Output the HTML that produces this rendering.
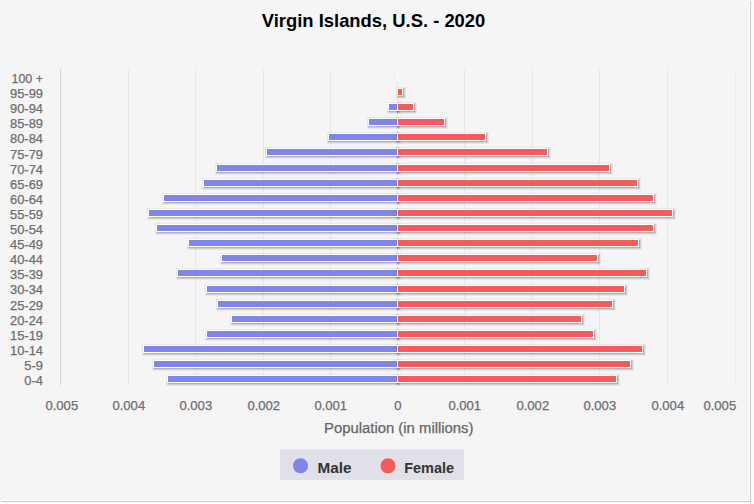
<!DOCTYPE html>
<html><head><meta charset="utf-8"><style>
html,body{margin:0;padding:0;width:754px;height:504px;overflow:hidden;background:#fcfcfc;}
#c{position:absolute;left:0;top:0;width:749px;height:500px;background:#f5f5f5;border-right:1px solid #fff;border-bottom:1px solid #fff;box-shadow:1px 1px 0 0 #c8c8c8;}
svg{position:absolute;left:0;top:0;}
text{font-family:"Liberation Sans",sans-serif;}
.cl{font-size:12px;fill:#6e6e70;stroke:#6e6e70;stroke-width:0.25;}
.tl{font-size:12px;fill:#6e6e70;stroke:#6e6e70;stroke-width:0.25;}
.ti{font-size:19px;font-weight:bold;fill:#000;}
.at{font-size:14px;fill:#666666;stroke:#666;stroke-width:0.25;}
.lg{font-size:15px;font-weight:bold;fill:#333333;}
</style></head><body>
<div id="c"></div>
<svg width="754" height="504" viewBox="0 0 754 504">
<text x="261.8" y="26.5" class="ti" textLength="223.5" lengthAdjust="spacingAndGlyphs">Virgin Islands, U.S. - 2020</text>
<line x1="60.5" y1="69" x2="60.5" y2="385" stroke="#cfd5e0" stroke-width="1"/>
<line x1="128.5" y1="69" x2="128.5" y2="385" stroke="#e8e8e8" stroke-width="1"/>
<line x1="195.5" y1="69" x2="195.5" y2="385" stroke="#e8e8e8" stroke-width="1"/>
<line x1="263.5" y1="69" x2="263.5" y2="385" stroke="#e8e8e8" stroke-width="1"/>
<line x1="330.5" y1="69" x2="330.5" y2="385" stroke="#e8e8e8" stroke-width="1"/>
<line x1="397.5" y1="69" x2="397.5" y2="385" stroke="#e8e8e8" stroke-width="1"/>
<line x1="464.5" y1="69" x2="464.5" y2="385" stroke="#e8e8e8" stroke-width="1"/>
<line x1="532.5" y1="69" x2="532.5" y2="385" stroke="#e8e8e8" stroke-width="1"/>
<line x1="599.5" y1="69" x2="599.5" y2="385" stroke="#e8e8e8" stroke-width="1"/>
<line x1="667.5" y1="69" x2="667.5" y2="385" stroke="#e8e8e8" stroke-width="1"/>
<line x1="735.5" y1="69" x2="735.5" y2="385" stroke="#ececec" stroke-width="1"/>
<rect x="167.5" y="375.5" width="230.0" height="7" fill="none" stroke="#000" stroke-opacity="0.05" stroke-width="5" transform="translate(1,1)"/><rect x="167.5" y="375.5" width="230.0" height="7" fill="none" stroke="#000" stroke-opacity="0.1" stroke-width="3" transform="translate(1,1)"/><rect x="167.5" y="375.5" width="230.0" height="7" fill="none" stroke="#000" stroke-opacity="0.15" stroke-width="1" transform="translate(1,1)"/><rect x="167.5" y="375.5" width="230.0" height="7" fill="#8085e9" stroke="#fff" stroke-width="1"/>
<rect x="397.5" y="375.5" width="219.0" height="7" fill="none" stroke="#000" stroke-opacity="0.05" stroke-width="5" transform="translate(1,1)"/><rect x="397.5" y="375.5" width="219.0" height="7" fill="none" stroke="#000" stroke-opacity="0.1" stroke-width="3" transform="translate(1,1)"/><rect x="397.5" y="375.5" width="219.0" height="7" fill="none" stroke="#000" stroke-opacity="0.15" stroke-width="1" transform="translate(1,1)"/><rect x="397.5" y="375.5" width="219.0" height="7" fill="#f45b5b" stroke="#fff" stroke-width="1"/>
<rect x="153.5" y="360.5" width="244.0" height="7" fill="none" stroke="#000" stroke-opacity="0.05" stroke-width="5" transform="translate(1,1)"/><rect x="153.5" y="360.5" width="244.0" height="7" fill="none" stroke="#000" stroke-opacity="0.1" stroke-width="3" transform="translate(1,1)"/><rect x="153.5" y="360.5" width="244.0" height="7" fill="none" stroke="#000" stroke-opacity="0.15" stroke-width="1" transform="translate(1,1)"/><rect x="153.5" y="360.5" width="244.0" height="7" fill="#8085e9" stroke="#fff" stroke-width="1"/>
<rect x="397.5" y="360.5" width="233.0" height="7" fill="none" stroke="#000" stroke-opacity="0.05" stroke-width="5" transform="translate(1,1)"/><rect x="397.5" y="360.5" width="233.0" height="7" fill="none" stroke="#000" stroke-opacity="0.1" stroke-width="3" transform="translate(1,1)"/><rect x="397.5" y="360.5" width="233.0" height="7" fill="none" stroke="#000" stroke-opacity="0.15" stroke-width="1" transform="translate(1,1)"/><rect x="397.5" y="360.5" width="233.0" height="7" fill="#f45b5b" stroke="#fff" stroke-width="1"/>
<rect x="143.5" y="345.5" width="254.0" height="7" fill="none" stroke="#000" stroke-opacity="0.05" stroke-width="5" transform="translate(1,1)"/><rect x="143.5" y="345.5" width="254.0" height="7" fill="none" stroke="#000" stroke-opacity="0.1" stroke-width="3" transform="translate(1,1)"/><rect x="143.5" y="345.5" width="254.0" height="7" fill="none" stroke="#000" stroke-opacity="0.15" stroke-width="1" transform="translate(1,1)"/><rect x="143.5" y="345.5" width="254.0" height="7" fill="#8085e9" stroke="#fff" stroke-width="1"/>
<rect x="397.5" y="345.5" width="245.0" height="7" fill="none" stroke="#000" stroke-opacity="0.05" stroke-width="5" transform="translate(1,1)"/><rect x="397.5" y="345.5" width="245.0" height="7" fill="none" stroke="#000" stroke-opacity="0.1" stroke-width="3" transform="translate(1,1)"/><rect x="397.5" y="345.5" width="245.0" height="7" fill="none" stroke="#000" stroke-opacity="0.15" stroke-width="1" transform="translate(1,1)"/><rect x="397.5" y="345.5" width="245.0" height="7" fill="#f45b5b" stroke="#fff" stroke-width="1"/>
<rect x="206.5" y="330.5" width="191.0" height="7" fill="none" stroke="#000" stroke-opacity="0.05" stroke-width="5" transform="translate(1,1)"/><rect x="206.5" y="330.5" width="191.0" height="7" fill="none" stroke="#000" stroke-opacity="0.1" stroke-width="3" transform="translate(1,1)"/><rect x="206.5" y="330.5" width="191.0" height="7" fill="none" stroke="#000" stroke-opacity="0.15" stroke-width="1" transform="translate(1,1)"/><rect x="206.5" y="330.5" width="191.0" height="7" fill="#8085e9" stroke="#fff" stroke-width="1"/>
<rect x="397.5" y="330.5" width="196.0" height="7" fill="none" stroke="#000" stroke-opacity="0.05" stroke-width="5" transform="translate(1,1)"/><rect x="397.5" y="330.5" width="196.0" height="7" fill="none" stroke="#000" stroke-opacity="0.1" stroke-width="3" transform="translate(1,1)"/><rect x="397.5" y="330.5" width="196.0" height="7" fill="none" stroke="#000" stroke-opacity="0.15" stroke-width="1" transform="translate(1,1)"/><rect x="397.5" y="330.5" width="196.0" height="7" fill="#f45b5b" stroke="#fff" stroke-width="1"/>
<rect x="231.5" y="315.5" width="166.0" height="7" fill="none" stroke="#000" stroke-opacity="0.05" stroke-width="5" transform="translate(1,1)"/><rect x="231.5" y="315.5" width="166.0" height="7" fill="none" stroke="#000" stroke-opacity="0.1" stroke-width="3" transform="translate(1,1)"/><rect x="231.5" y="315.5" width="166.0" height="7" fill="none" stroke="#000" stroke-opacity="0.15" stroke-width="1" transform="translate(1,1)"/><rect x="231.5" y="315.5" width="166.0" height="7" fill="#8085e9" stroke="#fff" stroke-width="1"/>
<rect x="397.5" y="315.5" width="184.0" height="7" fill="none" stroke="#000" stroke-opacity="0.05" stroke-width="5" transform="translate(1,1)"/><rect x="397.5" y="315.5" width="184.0" height="7" fill="none" stroke="#000" stroke-opacity="0.1" stroke-width="3" transform="translate(1,1)"/><rect x="397.5" y="315.5" width="184.0" height="7" fill="none" stroke="#000" stroke-opacity="0.15" stroke-width="1" transform="translate(1,1)"/><rect x="397.5" y="315.5" width="184.0" height="7" fill="#f45b5b" stroke="#fff" stroke-width="1"/>
<rect x="217.5" y="300.5" width="180.0" height="7" fill="none" stroke="#000" stroke-opacity="0.05" stroke-width="5" transform="translate(1,1)"/><rect x="217.5" y="300.5" width="180.0" height="7" fill="none" stroke="#000" stroke-opacity="0.1" stroke-width="3" transform="translate(1,1)"/><rect x="217.5" y="300.5" width="180.0" height="7" fill="none" stroke="#000" stroke-opacity="0.15" stroke-width="1" transform="translate(1,1)"/><rect x="217.5" y="300.5" width="180.0" height="7" fill="#8085e9" stroke="#fff" stroke-width="1"/>
<rect x="397.5" y="300.5" width="215.0" height="7" fill="none" stroke="#000" stroke-opacity="0.05" stroke-width="5" transform="translate(1,1)"/><rect x="397.5" y="300.5" width="215.0" height="7" fill="none" stroke="#000" stroke-opacity="0.1" stroke-width="3" transform="translate(1,1)"/><rect x="397.5" y="300.5" width="215.0" height="7" fill="none" stroke="#000" stroke-opacity="0.15" stroke-width="1" transform="translate(1,1)"/><rect x="397.5" y="300.5" width="215.0" height="7" fill="#f45b5b" stroke="#fff" stroke-width="1"/>
<rect x="206.5" y="285.5" width="191.0" height="7" fill="none" stroke="#000" stroke-opacity="0.05" stroke-width="5" transform="translate(1,1)"/><rect x="206.5" y="285.5" width="191.0" height="7" fill="none" stroke="#000" stroke-opacity="0.1" stroke-width="3" transform="translate(1,1)"/><rect x="206.5" y="285.5" width="191.0" height="7" fill="none" stroke="#000" stroke-opacity="0.15" stroke-width="1" transform="translate(1,1)"/><rect x="206.5" y="285.5" width="191.0" height="7" fill="#8085e9" stroke="#fff" stroke-width="1"/>
<rect x="397.5" y="285.5" width="227.0" height="7" fill="none" stroke="#000" stroke-opacity="0.05" stroke-width="5" transform="translate(1,1)"/><rect x="397.5" y="285.5" width="227.0" height="7" fill="none" stroke="#000" stroke-opacity="0.1" stroke-width="3" transform="translate(1,1)"/><rect x="397.5" y="285.5" width="227.0" height="7" fill="none" stroke="#000" stroke-opacity="0.15" stroke-width="1" transform="translate(1,1)"/><rect x="397.5" y="285.5" width="227.0" height="7" fill="#f45b5b" stroke="#fff" stroke-width="1"/>
<rect x="177.5" y="269.5" width="220.0" height="7" fill="none" stroke="#000" stroke-opacity="0.05" stroke-width="5" transform="translate(1,1)"/><rect x="177.5" y="269.5" width="220.0" height="7" fill="none" stroke="#000" stroke-opacity="0.1" stroke-width="3" transform="translate(1,1)"/><rect x="177.5" y="269.5" width="220.0" height="7" fill="none" stroke="#000" stroke-opacity="0.15" stroke-width="1" transform="translate(1,1)"/><rect x="177.5" y="269.5" width="220.0" height="7" fill="#8085e9" stroke="#fff" stroke-width="1"/>
<rect x="397.5" y="269.5" width="249.0" height="7" fill="none" stroke="#000" stroke-opacity="0.05" stroke-width="5" transform="translate(1,1)"/><rect x="397.5" y="269.5" width="249.0" height="7" fill="none" stroke="#000" stroke-opacity="0.1" stroke-width="3" transform="translate(1,1)"/><rect x="397.5" y="269.5" width="249.0" height="7" fill="none" stroke="#000" stroke-opacity="0.15" stroke-width="1" transform="translate(1,1)"/><rect x="397.5" y="269.5" width="249.0" height="7" fill="#f45b5b" stroke="#fff" stroke-width="1"/>
<rect x="221.5" y="254.5" width="176.0" height="7" fill="none" stroke="#000" stroke-opacity="0.05" stroke-width="5" transform="translate(1,1)"/><rect x="221.5" y="254.5" width="176.0" height="7" fill="none" stroke="#000" stroke-opacity="0.1" stroke-width="3" transform="translate(1,1)"/><rect x="221.5" y="254.5" width="176.0" height="7" fill="none" stroke="#000" stroke-opacity="0.15" stroke-width="1" transform="translate(1,1)"/><rect x="221.5" y="254.5" width="176.0" height="7" fill="#8085e9" stroke="#fff" stroke-width="1"/>
<rect x="397.5" y="254.5" width="200.0" height="7" fill="none" stroke="#000" stroke-opacity="0.05" stroke-width="5" transform="translate(1,1)"/><rect x="397.5" y="254.5" width="200.0" height="7" fill="none" stroke="#000" stroke-opacity="0.1" stroke-width="3" transform="translate(1,1)"/><rect x="397.5" y="254.5" width="200.0" height="7" fill="none" stroke="#000" stroke-opacity="0.15" stroke-width="1" transform="translate(1,1)"/><rect x="397.5" y="254.5" width="200.0" height="7" fill="#f45b5b" stroke="#fff" stroke-width="1"/>
<rect x="188.5" y="239.5" width="209.0" height="7" fill="none" stroke="#000" stroke-opacity="0.05" stroke-width="5" transform="translate(1,1)"/><rect x="188.5" y="239.5" width="209.0" height="7" fill="none" stroke="#000" stroke-opacity="0.1" stroke-width="3" transform="translate(1,1)"/><rect x="188.5" y="239.5" width="209.0" height="7" fill="none" stroke="#000" stroke-opacity="0.15" stroke-width="1" transform="translate(1,1)"/><rect x="188.5" y="239.5" width="209.0" height="7" fill="#8085e9" stroke="#fff" stroke-width="1"/>
<rect x="397.5" y="239.5" width="241.0" height="7" fill="none" stroke="#000" stroke-opacity="0.05" stroke-width="5" transform="translate(1,1)"/><rect x="397.5" y="239.5" width="241.0" height="7" fill="none" stroke="#000" stroke-opacity="0.1" stroke-width="3" transform="translate(1,1)"/><rect x="397.5" y="239.5" width="241.0" height="7" fill="none" stroke="#000" stroke-opacity="0.15" stroke-width="1" transform="translate(1,1)"/><rect x="397.5" y="239.5" width="241.0" height="7" fill="#f45b5b" stroke="#fff" stroke-width="1"/>
<rect x="156.5" y="224.5" width="241.0" height="7" fill="none" stroke="#000" stroke-opacity="0.05" stroke-width="5" transform="translate(1,1)"/><rect x="156.5" y="224.5" width="241.0" height="7" fill="none" stroke="#000" stroke-opacity="0.1" stroke-width="3" transform="translate(1,1)"/><rect x="156.5" y="224.5" width="241.0" height="7" fill="none" stroke="#000" stroke-opacity="0.15" stroke-width="1" transform="translate(1,1)"/><rect x="156.5" y="224.5" width="241.0" height="7" fill="#8085e9" stroke="#fff" stroke-width="1"/>
<rect x="397.5" y="224.5" width="256.0" height="7" fill="none" stroke="#000" stroke-opacity="0.05" stroke-width="5" transform="translate(1,1)"/><rect x="397.5" y="224.5" width="256.0" height="7" fill="none" stroke="#000" stroke-opacity="0.1" stroke-width="3" transform="translate(1,1)"/><rect x="397.5" y="224.5" width="256.0" height="7" fill="none" stroke="#000" stroke-opacity="0.15" stroke-width="1" transform="translate(1,1)"/><rect x="397.5" y="224.5" width="256.0" height="7" fill="#f45b5b" stroke="#fff" stroke-width="1"/>
<rect x="148.5" y="209.5" width="249.0" height="7" fill="none" stroke="#000" stroke-opacity="0.05" stroke-width="5" transform="translate(1,1)"/><rect x="148.5" y="209.5" width="249.0" height="7" fill="none" stroke="#000" stroke-opacity="0.1" stroke-width="3" transform="translate(1,1)"/><rect x="148.5" y="209.5" width="249.0" height="7" fill="none" stroke="#000" stroke-opacity="0.15" stroke-width="1" transform="translate(1,1)"/><rect x="148.5" y="209.5" width="249.0" height="7" fill="#8085e9" stroke="#fff" stroke-width="1"/>
<rect x="397.5" y="209.5" width="275.0" height="7" fill="none" stroke="#000" stroke-opacity="0.05" stroke-width="5" transform="translate(1,1)"/><rect x="397.5" y="209.5" width="275.0" height="7" fill="none" stroke="#000" stroke-opacity="0.1" stroke-width="3" transform="translate(1,1)"/><rect x="397.5" y="209.5" width="275.0" height="7" fill="none" stroke="#000" stroke-opacity="0.15" stroke-width="1" transform="translate(1,1)"/><rect x="397.5" y="209.5" width="275.0" height="7" fill="#f45b5b" stroke="#fff" stroke-width="1"/>
<rect x="163.5" y="194.5" width="234.0" height="7" fill="none" stroke="#000" stroke-opacity="0.05" stroke-width="5" transform="translate(1,1)"/><rect x="163.5" y="194.5" width="234.0" height="7" fill="none" stroke="#000" stroke-opacity="0.1" stroke-width="3" transform="translate(1,1)"/><rect x="163.5" y="194.5" width="234.0" height="7" fill="none" stroke="#000" stroke-opacity="0.15" stroke-width="1" transform="translate(1,1)"/><rect x="163.5" y="194.5" width="234.0" height="7" fill="#8085e9" stroke="#fff" stroke-width="1"/>
<rect x="397.5" y="194.5" width="256.0" height="7" fill="none" stroke="#000" stroke-opacity="0.05" stroke-width="5" transform="translate(1,1)"/><rect x="397.5" y="194.5" width="256.0" height="7" fill="none" stroke="#000" stroke-opacity="0.1" stroke-width="3" transform="translate(1,1)"/><rect x="397.5" y="194.5" width="256.0" height="7" fill="none" stroke="#000" stroke-opacity="0.15" stroke-width="1" transform="translate(1,1)"/><rect x="397.5" y="194.5" width="256.0" height="7" fill="#f45b5b" stroke="#fff" stroke-width="1"/>
<rect x="203.5" y="179.5" width="194.0" height="7" fill="none" stroke="#000" stroke-opacity="0.05" stroke-width="5" transform="translate(1,1)"/><rect x="203.5" y="179.5" width="194.0" height="7" fill="none" stroke="#000" stroke-opacity="0.1" stroke-width="3" transform="translate(1,1)"/><rect x="203.5" y="179.5" width="194.0" height="7" fill="none" stroke="#000" stroke-opacity="0.15" stroke-width="1" transform="translate(1,1)"/><rect x="203.5" y="179.5" width="194.0" height="7" fill="#8085e9" stroke="#fff" stroke-width="1"/>
<rect x="397.5" y="179.5" width="240.0" height="7" fill="none" stroke="#000" stroke-opacity="0.05" stroke-width="5" transform="translate(1,1)"/><rect x="397.5" y="179.5" width="240.0" height="7" fill="none" stroke="#000" stroke-opacity="0.1" stroke-width="3" transform="translate(1,1)"/><rect x="397.5" y="179.5" width="240.0" height="7" fill="none" stroke="#000" stroke-opacity="0.15" stroke-width="1" transform="translate(1,1)"/><rect x="397.5" y="179.5" width="240.0" height="7" fill="#f45b5b" stroke="#fff" stroke-width="1"/>
<rect x="216.5" y="164.5" width="181.0" height="7" fill="none" stroke="#000" stroke-opacity="0.05" stroke-width="5" transform="translate(1,1)"/><rect x="216.5" y="164.5" width="181.0" height="7" fill="none" stroke="#000" stroke-opacity="0.1" stroke-width="3" transform="translate(1,1)"/><rect x="216.5" y="164.5" width="181.0" height="7" fill="none" stroke="#000" stroke-opacity="0.15" stroke-width="1" transform="translate(1,1)"/><rect x="216.5" y="164.5" width="181.0" height="7" fill="#8085e9" stroke="#fff" stroke-width="1"/>
<rect x="397.5" y="164.5" width="212.0" height="7" fill="none" stroke="#000" stroke-opacity="0.05" stroke-width="5" transform="translate(1,1)"/><rect x="397.5" y="164.5" width="212.0" height="7" fill="none" stroke="#000" stroke-opacity="0.1" stroke-width="3" transform="translate(1,1)"/><rect x="397.5" y="164.5" width="212.0" height="7" fill="none" stroke="#000" stroke-opacity="0.15" stroke-width="1" transform="translate(1,1)"/><rect x="397.5" y="164.5" width="212.0" height="7" fill="#f45b5b" stroke="#fff" stroke-width="1"/>
<rect x="266.5" y="148.5" width="131.0" height="7" fill="none" stroke="#000" stroke-opacity="0.05" stroke-width="5" transform="translate(1,1)"/><rect x="266.5" y="148.5" width="131.0" height="7" fill="none" stroke="#000" stroke-opacity="0.1" stroke-width="3" transform="translate(1,1)"/><rect x="266.5" y="148.5" width="131.0" height="7" fill="none" stroke="#000" stroke-opacity="0.15" stroke-width="1" transform="translate(1,1)"/><rect x="266.5" y="148.5" width="131.0" height="7" fill="#8085e9" stroke="#fff" stroke-width="1"/>
<rect x="397.5" y="148.5" width="150.0" height="7" fill="none" stroke="#000" stroke-opacity="0.05" stroke-width="5" transform="translate(1,1)"/><rect x="397.5" y="148.5" width="150.0" height="7" fill="none" stroke="#000" stroke-opacity="0.1" stroke-width="3" transform="translate(1,1)"/><rect x="397.5" y="148.5" width="150.0" height="7" fill="none" stroke="#000" stroke-opacity="0.15" stroke-width="1" transform="translate(1,1)"/><rect x="397.5" y="148.5" width="150.0" height="7" fill="#f45b5b" stroke="#fff" stroke-width="1"/>
<rect x="328.5" y="133.5" width="69.0" height="7" fill="none" stroke="#000" stroke-opacity="0.05" stroke-width="5" transform="translate(1,1)"/><rect x="328.5" y="133.5" width="69.0" height="7" fill="none" stroke="#000" stroke-opacity="0.1" stroke-width="3" transform="translate(1,1)"/><rect x="328.5" y="133.5" width="69.0" height="7" fill="none" stroke="#000" stroke-opacity="0.15" stroke-width="1" transform="translate(1,1)"/><rect x="328.5" y="133.5" width="69.0" height="7" fill="#8085e9" stroke="#fff" stroke-width="1"/>
<rect x="397.5" y="133.5" width="88.0" height="7" fill="none" stroke="#000" stroke-opacity="0.05" stroke-width="5" transform="translate(1,1)"/><rect x="397.5" y="133.5" width="88.0" height="7" fill="none" stroke="#000" stroke-opacity="0.1" stroke-width="3" transform="translate(1,1)"/><rect x="397.5" y="133.5" width="88.0" height="7" fill="none" stroke="#000" stroke-opacity="0.15" stroke-width="1" transform="translate(1,1)"/><rect x="397.5" y="133.5" width="88.0" height="7" fill="#f45b5b" stroke="#fff" stroke-width="1"/>
<rect x="368.5" y="118.5" width="29.0" height="7" fill="none" stroke="#000" stroke-opacity="0.05" stroke-width="5" transform="translate(1,1)"/><rect x="368.5" y="118.5" width="29.0" height="7" fill="none" stroke="#000" stroke-opacity="0.1" stroke-width="3" transform="translate(1,1)"/><rect x="368.5" y="118.5" width="29.0" height="7" fill="none" stroke="#000" stroke-opacity="0.15" stroke-width="1" transform="translate(1,1)"/><rect x="368.5" y="118.5" width="29.0" height="7" fill="#8085e9" stroke="#fff" stroke-width="1"/>
<rect x="397.5" y="118.5" width="47.0" height="7" fill="none" stroke="#000" stroke-opacity="0.05" stroke-width="5" transform="translate(1,1)"/><rect x="397.5" y="118.5" width="47.0" height="7" fill="none" stroke="#000" stroke-opacity="0.1" stroke-width="3" transform="translate(1,1)"/><rect x="397.5" y="118.5" width="47.0" height="7" fill="none" stroke="#000" stroke-opacity="0.15" stroke-width="1" transform="translate(1,1)"/><rect x="397.5" y="118.5" width="47.0" height="7" fill="#f45b5b" stroke="#fff" stroke-width="1"/>
<rect x="388.5" y="103.5" width="9.0" height="7" fill="none" stroke="#000" stroke-opacity="0.05" stroke-width="5" transform="translate(1,1)"/><rect x="388.5" y="103.5" width="9.0" height="7" fill="none" stroke="#000" stroke-opacity="0.1" stroke-width="3" transform="translate(1,1)"/><rect x="388.5" y="103.5" width="9.0" height="7" fill="none" stroke="#000" stroke-opacity="0.15" stroke-width="1" transform="translate(1,1)"/><rect x="388.5" y="103.5" width="9.0" height="7" fill="#8085e9" stroke="#fff" stroke-width="1"/>
<rect x="397.5" y="103.5" width="16.0" height="7" fill="none" stroke="#000" stroke-opacity="0.05" stroke-width="5" transform="translate(1,1)"/><rect x="397.5" y="103.5" width="16.0" height="7" fill="none" stroke="#000" stroke-opacity="0.1" stroke-width="3" transform="translate(1,1)"/><rect x="397.5" y="103.5" width="16.0" height="7" fill="none" stroke="#000" stroke-opacity="0.15" stroke-width="1" transform="translate(1,1)"/><rect x="397.5" y="103.5" width="16.0" height="7" fill="#f45b5b" stroke="#fff" stroke-width="1"/>
<rect x="397.5" y="88.5" width="5.0" height="7" fill="none" stroke="#000" stroke-opacity="0.05" stroke-width="5" transform="translate(1,1)"/><rect x="397.5" y="88.5" width="5.0" height="7" fill="none" stroke="#000" stroke-opacity="0.1" stroke-width="3" transform="translate(1,1)"/><rect x="397.5" y="88.5" width="5.0" height="7" fill="none" stroke="#000" stroke-opacity="0.15" stroke-width="1" transform="translate(1,1)"/><rect x="397.5" y="88.5" width="5.0" height="7" fill="#f45b5b" stroke="#fff" stroke-width="1"/>
<rect x="397" y="88.0" width="1" height="8" fill="#fff"/>
<rect x="397" y="73.0" width="1" height="8" fill="#fff"/>
<text x="43" y="385.00" text-anchor="end" class="cl" textLength="18.64" lengthAdjust="spacingAndGlyphs">0-4</text>
<text x="43" y="369.90" text-anchor="end" class="cl" textLength="18.64" lengthAdjust="spacingAndGlyphs">5-9</text>
<text x="43" y="354.80" text-anchor="end" class="cl" textLength="32.99" lengthAdjust="spacingAndGlyphs">10-14</text>
<text x="43" y="339.70" text-anchor="end" class="cl" textLength="32.99" lengthAdjust="spacingAndGlyphs">15-19</text>
<text x="43" y="324.60" text-anchor="end" class="cl" textLength="32.99" lengthAdjust="spacingAndGlyphs">20-24</text>
<text x="43" y="309.50" text-anchor="end" class="cl" textLength="32.99" lengthAdjust="spacingAndGlyphs">25-29</text>
<text x="43" y="294.40" text-anchor="end" class="cl" textLength="32.99" lengthAdjust="spacingAndGlyphs">30-34</text>
<text x="43" y="279.30" text-anchor="end" class="cl" textLength="32.99" lengthAdjust="spacingAndGlyphs">35-39</text>
<text x="43" y="264.20" text-anchor="end" class="cl" textLength="32.99" lengthAdjust="spacingAndGlyphs">40-44</text>
<text x="43" y="249.10" text-anchor="end" class="cl" textLength="32.99" lengthAdjust="spacingAndGlyphs">45-49</text>
<text x="43" y="234.00" text-anchor="end" class="cl" textLength="32.99" lengthAdjust="spacingAndGlyphs">50-54</text>
<text x="43" y="218.90" text-anchor="end" class="cl" textLength="32.99" lengthAdjust="spacingAndGlyphs">55-59</text>
<text x="43" y="203.80" text-anchor="end" class="cl" textLength="32.99" lengthAdjust="spacingAndGlyphs">60-64</text>
<text x="43" y="188.70" text-anchor="end" class="cl" textLength="32.99" lengthAdjust="spacingAndGlyphs">65-69</text>
<text x="43" y="173.60" text-anchor="end" class="cl" textLength="32.99" lengthAdjust="spacingAndGlyphs">70-74</text>
<text x="43" y="158.50" text-anchor="end" class="cl" textLength="32.99" lengthAdjust="spacingAndGlyphs">75-79</text>
<text x="43" y="143.40" text-anchor="end" class="cl" textLength="32.99" lengthAdjust="spacingAndGlyphs">80-84</text>
<text x="43" y="128.30" text-anchor="end" class="cl" textLength="32.99" lengthAdjust="spacingAndGlyphs">85-89</text>
<text x="43" y="113.20" text-anchor="end" class="cl" textLength="32.99" lengthAdjust="spacingAndGlyphs">90-94</text>
<text x="43" y="98.10" text-anchor="end" class="cl" textLength="32.99" lengthAdjust="spacingAndGlyphs">95-99</text>
<text x="43" y="83.00" text-anchor="end" class="cl" textLength="31.50" lengthAdjust="spacingAndGlyphs">100 +</text>
<text x="61.8" y="409.7" text-anchor="middle" class="tl" textLength="32.73" lengthAdjust="spacingAndGlyphs">0.005</text>
<text x="128.8" y="409.7" text-anchor="middle" class="tl" textLength="32.73" lengthAdjust="spacingAndGlyphs">0.004</text>
<text x="195.8" y="409.7" text-anchor="middle" class="tl" textLength="32.73" lengthAdjust="spacingAndGlyphs">0.003</text>
<text x="263.8" y="409.7" text-anchor="middle" class="tl" textLength="32.73" lengthAdjust="spacingAndGlyphs">0.002</text>
<text x="330.8" y="409.7" text-anchor="middle" class="tl" textLength="32.73" lengthAdjust="spacingAndGlyphs">0.001</text>
<text x="397.8" y="409.7" text-anchor="middle" class="tl" textLength="7.27" lengthAdjust="spacingAndGlyphs">0</text>
<text x="464.8" y="409.7" text-anchor="middle" class="tl" textLength="32.73" lengthAdjust="spacingAndGlyphs">0.001</text>
<text x="532.8" y="409.7" text-anchor="middle" class="tl" textLength="32.73" lengthAdjust="spacingAndGlyphs">0.002</text>
<text x="599.8" y="409.7" text-anchor="middle" class="tl" textLength="32.73" lengthAdjust="spacingAndGlyphs">0.003</text>
<text x="667.8" y="409.7" text-anchor="middle" class="tl" textLength="32.73" lengthAdjust="spacingAndGlyphs">0.004</text>
<text x="719.8" y="409.7" text-anchor="middle" class="tl" textLength="32.73" lengthAdjust="spacingAndGlyphs">0.005</text>
<text x="324" y="432.8" class="at" textLength="149.5" lengthAdjust="spacingAndGlyphs">Population (in millions)</text>
<rect x="280" y="449.5" width="184" height="30.5" fill="#E0E0E8"/>
<circle cx="300.5" cy="465.8" r="8" fill="#8085e9" stroke="#fff" stroke-opacity="0.6" stroke-width="1"/>
<text x="317.5" y="472.9" class="lg" textLength="34" lengthAdjust="spacingAndGlyphs">Male</text>
<circle cx="388" cy="465.8" r="8" fill="#f45b5b" stroke="#fff" stroke-opacity="0.6" stroke-width="1"/>
<text x="404.2" y="472.9" class="lg" textLength="50" lengthAdjust="spacingAndGlyphs">Female</text>
</svg>
</body></html>
